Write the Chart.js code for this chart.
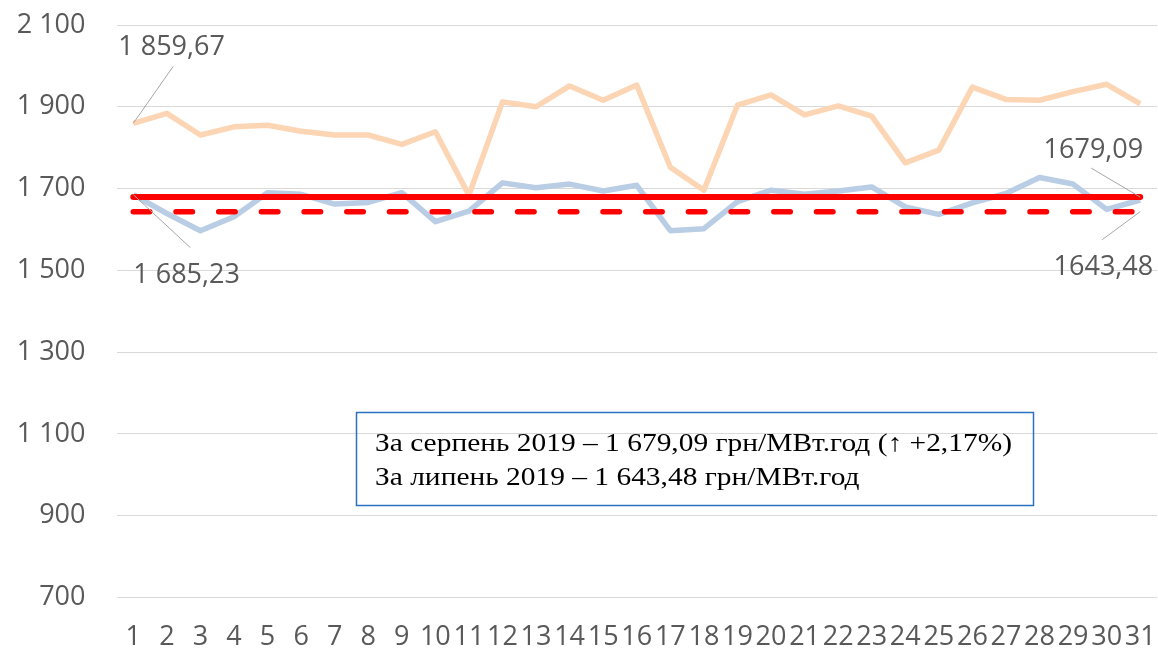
<!DOCTYPE html>
<html>
<head>
<meta charset="utf-8">
<script src="https://cdn.jsdelivr.net/npm/chart.js@4.4.1/dist/chart.umd.min.js"></script>
<style>
  body { margin: 0; background: #fff; }
  canvas { display: block; }
</style>
</head>
<body>
<canvas id="priceChart" width="1158" height="651"></canvas>
<script>
// --- data ---
const days = ['1','2','3','4','5','6','7','8','9','10','11','12','13','14','15','16',
  '17','18','19','20','21','22','23','24','25','26','27','28','29','30','31'];

const upperDaily = [1859.67, 1884, 1831, 1851, 1855, 1840, 1831, 1831, 1808, 1839, 1684,
  1912, 1900, 1951, 1916, 1953, 1752, 1696, 1904, 1929, 1880, 1902, 1877, 1763, 1794,
  1948, 1918, 1916, 1937, 1955, 1907];

const lowerDaily = [1685.23, 1639, 1597, 1631, 1690, 1686, 1662, 1666, 1690, 1619, 1645,
  1714, 1702, 1711, 1694, 1708, 1597, 1602, 1668, 1696, 1686, 1694, 1704, 1655, 1637,
  1665, 1688, 1727, 1711, 1649, 1672];

const avgAugust = 1679.09;
const avgJuly = 1643.48;

const yTickValues = [700, 900, 1100, 1300, 1500, 1700, 1900, 2100];
const yTickLabels = ['700', '900', '1 100', '1 300', '1 500', '1 700', '1 900', '2 100'];

const noteLines = [
  'За серпень 2019 – 1 679,09 грн/МВт.год (↑ +2,17%)',
  'За липень 2019 – 1 643,48 грн/МВт.год'
];

// 1859.67 -> "1 859,67" (or "1859,67" without grouping)
function fmtNum(v, group) {
  let [i, d] = v.toFixed(2).split('.');
  if (group) i = i.replace(/\B(?=(\d{3})+(?!\d))/g, ' ');
  return i + ',' + d;
}

const TEXT = '#595959';
const SANS = '"Open Sans", "Noto Sans", sans-serif';

// value callouts with grey leader lines
const callouts = [
  { idx: 0, value: upperDaily[0], text: fmtNum(upperDaily[0], true),
    leader: [40, -57], tx: -15, ty: -68, align: 'left' },
  { idx: 0, value: lowerDaily[0], text: fmtNum(lowerDaily[0], true),
    leader: [57, 53], tx: 0, ty: 88, align: 'left' },
  { idx: days.length - 1, value: avgAugust, text: fmtNum(avgAugust, false),
    leader: [-49, -29], tx: 3, ty: -39, align: 'right' },
  { idx: days.length - 1, value: avgJuly, text: fmtNum(avgJuly, false),
    leader: [-38, 28], tx: 13, ty: 63, align: 'right' }
];

const calloutPlugin = {
  id: 'callouts',
  afterDatasetsDraw(chart) {
    const { ctx, scales: { x, y } } = chart;
    ctx.save();
    ctx.font = '27px ' + SANS;
    ctx.fillStyle = TEXT;
    ctx.textBaseline = 'alphabetic';
    callouts.forEach(c => {
      const px = x.getPixelForValue(c.idx);
      const py = y.getPixelForValue(c.value);
      ctx.strokeStyle = '#a6a6a6';
      ctx.lineWidth = 1;
      ctx.beginPath();
      ctx.moveTo(px, py);
      ctx.lineTo(px + c.leader[0], py + c.leader[1]);
      ctx.stroke();
      ctx.textAlign = c.align;
      ctx.fillText(c.text, px + c.tx, py + c.ty);
    });
    ctx.restore();
  }
};

// framed note in the lower part of the plot
const notePlugin = {
  id: 'note',
  afterDraw(chart) {
    const ctx = chart.ctx;
    ctx.save();
    ctx.strokeStyle = '#2a72c0';
    ctx.lineWidth = 1.5;
    ctx.strokeRect(356.5, 412.5, 677, 93);
    ctx.font = '25px "Liberation Serif", "Times New Roman", serif';
    ctx.fillStyle = '#000';
    ctx.textBaseline = 'alphabetic';
    ctx.textAlign = 'left';
    const sx = 637 / ctx.measureText(noteLines[0]).width;
    ctx.translate(375, 0);
    ctx.scale(sx, 1);
    ctx.fillText(noteLines[0], 0, 451);
    ctx.fillText(noteLines[1], 0, 485);
    ctx.restore();
  }
};

const ctx = document.getElementById('priceChart').getContext('2d');
new Chart(ctx, {
  type: 'line',
  data: {
    labels: days,
    datasets: [
      {
        data: upperDaily,
        borderColor: '#fcd5b4',
        borderWidth: 5.5,
        borderJoinStyle: 'round',
        pointRadius: 0,
        tension: 0,
        order: 4
      },
      {
        data: lowerDaily,
        borderColor: '#b9cde5',
        borderWidth: 5.5,
        borderJoinStyle: 'round',
        pointRadius: 0,
        tension: 0,
        order: 3
      },
      {
        data: [{ x: days[0], y: avgAugust }, { x: days[days.length - 1], y: avgAugust }],
        borderColor: '#ff0000',
        borderWidth: 6,
        borderCapStyle: 'round',
        pointRadius: 0,
        order: 2
      },
      {
        data: [{ x: days[0], y: avgJuly }, { x: days[days.length - 1], y: avgJuly }],
        borderColor: '#ff0000',
        borderWidth: 5.5,
        borderDash: [16.5, 26.2],
        borderCapStyle: 'round',
        pointRadius: 0,
        order: 1
      }
    ]
  },
  options: {
    responsive: false,
    animation: false,
    layout: { padding: { top: 25, right: 1, left: 0, bottom: 0 } },
    plugins: {
      legend: { display: false },
      tooltip: { enabled: false }
    },
    scales: {
      x: {
        offset: true,
        grid: { display: false },
        border: { display: false },
        ticks: {
          autoSkip: false,
          maxRotation: 0,
          minRotation: 0,
          padding: 16,
          color: TEXT,
          font: { family: SANS, size: 27 }
        },
        afterFit(scale) {
          scale.height = 53.5;
          scale.paddingLeft = 0;
          scale.paddingRight = 0;
        }
      },
      y: {
        min: 700,
        max: 2100,
        grid: { color: '#d9d9d9', lineWidth: 1, drawTicks: false },
        border: { display: false },
        ticks: {
          stepSize: 200,
          padding: 31,
          color: TEXT,
          font: { family: SANS, size: 27 },
          callback: v => yTickLabels[yTickValues.indexOf(v)]
        },
        afterFit(scale) {
          scale.width = 116.5;
          scale.paddingTop = 16;
          scale.paddingBottom = 16;
        }
      }
    }
  },
  plugins: [calloutPlugin, notePlugin]
});
</script>
</body>
</html>
